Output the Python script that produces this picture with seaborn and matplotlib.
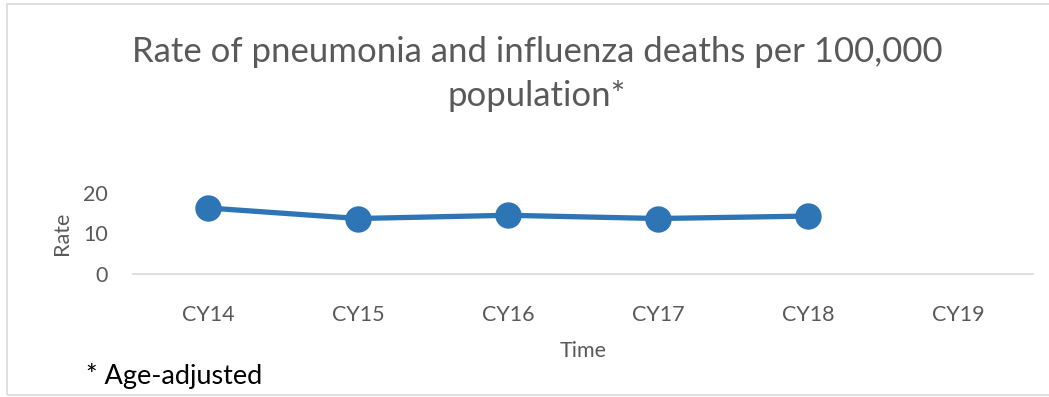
import matplotlib
matplotlib.use("Agg")
import matplotlib.pyplot as plt
import seaborn as sns
import pandas as pd
from matplotlib.patches import Rectangle

years = ["CY14", "CY15", "CY16", "CY17", "CY18", "CY19"]
rates = [16.3, 13.7, 14.5, 13.7, 14.3, None]
y_ticks = [0, 10, 20]

df = pd.DataFrame({"Time": years, "Rate": rates})

sns.set_theme(style="white")
plt.rcParams["font.family"] = ["Lato", "DejaVu Sans"]

W, H = 1049, 397
fig = plt.figure(figsize=(W / 100, H / 100), dpi=100)
ax = fig.add_axes([133 / W, 1 - 274 / H, 900 / W, 81 / H])

blue = "#2E75B6"
grey = "#595959"

sns.lineplot(data=df.dropna(), x="Time", y="Rate", ax=ax, color=blue,
             linewidth=3.8, marker="o", markersize=19, markeredgewidth=0,
             sort=False, clip_on=False)

ax.set_xlim(-0.5, len(years) - 0.5)
ax.set_xticks(range(len(years)))
ax.set_xticklabels(years)
ax.set_ylim(0, 20)
ax.set_yticks(y_ticks)
ax.tick_params(axis="both", length=0, labelsize=15.5, colors=grey)
ax.tick_params(axis="x", pad=22)
ax.tick_params(axis="y", pad=18)
for s in ["top", "right", "left"]:
    ax.spines[s].set_visible(False)
ax.spines["bottom"].set_color("#d9d9d9")
ax.spines["bottom"].set_linewidth(1.2)
ax.set_xlabel("Time", fontsize=15.5, color=grey, labelpad=12)
ax.set_ylabel("Rate", fontsize=15.5, color=grey, labelpad=8)
ax.grid(False)

fig.text(537 / W, 1 - 74 / H,
         "Rate of pneumonia and influenza deaths per 100,000\npopulation*",
         ha="center", va="center", fontsize=25, color=grey, linespacing=1.45)
fig.text(86 / W, 1 - 376 / H, "* Age-adjusted", ha="left", va="center",
         fontsize=19.5, color="black")

# chart frame (left, top and bottom edges)
fig.patches.append(Rectangle((7 / W, 1 - 395 / H), (W + 10) / W, 391 / H,
                             transform=fig.transFigure, fill=False,
                             edgecolor="#d9d9d9", linewidth=1.2))

fig.savefig("out.png", dpi=100)
